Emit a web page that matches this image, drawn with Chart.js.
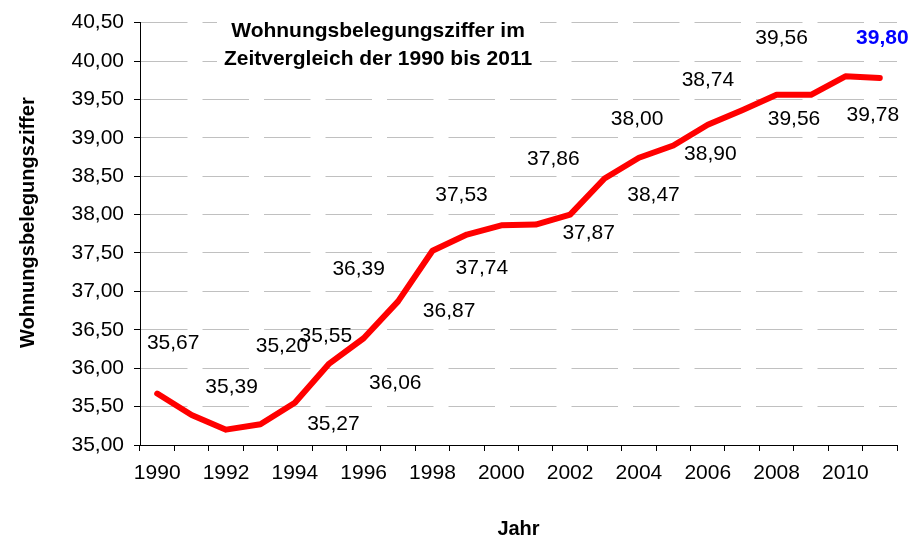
<!DOCTYPE html>
<html lang="de">
<head>
<meta charset="utf-8">
<title>Wohnungsbelegungsziffer 1990–2011</title>
<script src="https://cdn.jsdelivr.net/npm/chart.js@4/dist/chart.umd.min.js"></script>
<style>
  html, body { margin: 0; padding: 0; background: #ffffff; }
  #wrap { width: 920px; height: 537px; }
</style>
</head>
<body>
<div id="wrap"><canvas id="chart" width="920" height="537"></canvas></div>
<script>
// Jahre und Wohnungsbelegungsziffer
const years = ['1990','1991','1992','1993','1994','1995','1996','1997','1998','1999','2000',
               '2001','2002','2003','2004','2005','2006','2007','2008','2009','2010','2011'];
const belegung = [35.67, 35.39, 35.20, 35.27, 35.55, 36.06, 36.39, 36.87, 37.53, 37.74, 37.86,
                  37.87, 38.00, 38.47, 38.74, 38.90, 39.17, 39.36, 39.56, 39.56, 39.80, 39.78];
const unlabelledYears = ['2006', '2007'];
const highlightYear = '2010';
const yMin = 35, yMax = 40.5, yStep = 0.5;
const titleLines = ['Wohnungsbelegungsziffer im', 'Zeitvergleich der 1990 bis 2011'];
const yAxisTitle = 'Wohnungsbelegungsziffer';
const xAxisTitle = 'Jahr';

const FONT = '"Liberation Sans", Arial, Helvetica, sans-serif';
const fmt = v => v.toFixed(2).replace('.', ',');

// manually placed value labels: offset (dx, dy) from each point in px
const labelOffsets = [[16,-50],[40,-28],[56,-83],[73,0],[31,-67],[66,20],[-5,-69],[51,10],
                      [29,-55],[15,34],[52,-66],[53,9],[67,-95],[49,17],[69,-78],[37,9],
                      null,null,[5,-57],[-17,24],[37,-38],[-7,37]];

const pointLabels = {
  id: 'pointLabels',
  afterDatasetsDraw(chart) {
    const meta = chart.getDatasetMeta(0);
    const ctx = chart.ctx;
    ctx.save();
    ctx.textAlign = 'center';
    ctx.textBaseline = 'middle';
    meta.data.forEach((pt, i) => {
      const yr = years[i];
      const off = labelOffsets[i];
      if (unlabelledYears.includes(yr) || !off) return;
      const hi = yr === highlightYear;
      ctx.font = (hi ? 'bold ' : '') + '21px ' + FONT;
      ctx.fillStyle = hi ? '#0000ff' : '#000000';
      ctx.fillText(fmt(belegung[i]), pt.x + off[0], pt.y + off[1]);
    });
    ctx.restore();
  }
};

// chart title inside the plot, on a white box over the grid
const innerTitle = {
  id: 'innerTitle',
  beforeDatasetsDraw(chart) {
    const ctx = chart.ctx;
    ctx.save();
    ctx.fillStyle = '#ffffff';
    ctx.fillRect(217, 12, 323, 60);
    ctx.fillStyle = '#000000';
    ctx.font = 'bold 21px ' + FONT;
    ctx.textAlign = 'center';
    ctx.textBaseline = 'middle';
    ctx.fillText(titleLines[0], 378, 31);
    ctx.fillText(titleLines[1], 378, 59);
    ctx.restore();
  }
};

new Chart(document.getElementById('chart'), {
  type: 'line',
  data: {
    labels: years,
    datasets: [{
      data: belegung,
      borderColor: '#ff0000',
      backgroundColor: '#ff0000',
      borderWidth: 6,
      borderJoinStyle: 'round',
      borderCapStyle: 'round',
      pointRadius: 0,
      pointHoverRadius: 0,
      tension: 0,
      fill: false
    }]
  },
  options: {
    responsive: false,
    animation: false,
    layout: { padding: { top: 18, right: 23, bottom: 0, left: 0 } },
    plugins: {
      legend: { display: false },
      tooltip: { enabled: false },
      title: { display: false }
    },
    scales: {
      x: {
        type: 'category',
        offset: true,
        afterFit(scale) { scale.height = 92; },
        grid: {
          offset: true,
          drawOnChartArea: false,
          drawTicks: true,
          tickLength: 6,
          tickColor: '#000000'
        },
        border: { display: true, color: '#000000', width: 1 },
        ticks: {
          autoSkip: false,
          maxRotation: 0,
          minRotation: 0,
          padding: 10,
          color: '#000000',
          font: { family: FONT, size: 21 },
          callback(value, index) { return index % 2 === 0 ? years[index] : ''; }
        },
        title: {
          display: true,
          text: xAxisTitle,
          color: '#000000',
          font: { family: FONT, size: 20, weight: 'bold' },
          padding: { top: 0, bottom: -4 }
        }
      },
      y: {
        min: yMin,
        max: yMax,
        afterFit(scale) { scale.width = 140; },
        grid: {
          color: '#c0c0c0',
          lineWidth: 1,
          drawTicks: true,
          tickLength: 6,
          tickColor: '#000000'
        },
        border: { display: true, color: '#000000', width: 1, dash: [46.5, 15] },
        ticks: {
          stepSize: yStep,
          padding: 10,
          color: '#000000',
          font: { family: FONT, size: 21 },
          callback(value) { return fmt(value); }
        },
        title: {
          display: true,
          text: '    ' + yAxisTitle,
          color: '#000000',
          font: { family: FONT, size: 20, weight: 'bold' },
          padding: { top: 16, bottom: 0 }
        }
      }
    }
  },
  plugins: [innerTitle, pointLabels]
});
</script>
</body>
</html>
